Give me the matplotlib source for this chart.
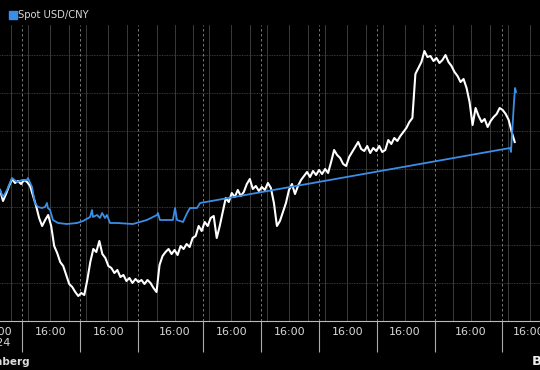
import matplotlib
matplotlib.use("Agg")
import matplotlib.pyplot as plt
import matplotlib.transforms as mtransforms
from matplotlib.lines import Line2D
import numpy as np

# ---- data (x in chart hours, y in CNY per USD) ----
white_step_h = 1.25
white_vals = [
    7.1655, 7.1600, 7.1635, 7.1675, 7.1710, 7.1690, 7.1700, 7.1685, 7.1705, 7.1695,
    7.1675, 7.1625, 7.1575, 7.1515, 7.1475, 7.1505, 7.1530, 7.1475, 7.1375, 7.1340,
    7.1295, 7.1275, 7.1230, 7.1185, 7.1170, 7.1145, 7.1125, 7.1140, 7.1130, 7.1205,
    7.1295, 7.1360, 7.1345, 7.1400, 7.1335, 7.1315, 7.1275, 7.1265, 7.1240, 7.1255,
    7.1220, 7.1230, 7.1200, 7.1215, 7.1190, 7.1210, 7.1195, 7.1205, 7.1185, 7.1205,
    7.1190, 7.1165, 7.1145, 7.1280, 7.1325, 7.1345, 7.1360, 7.1335, 7.1355, 7.1330,
    7.1375, 7.1360, 7.1385, 7.1370, 7.1415, 7.1425, 7.1475, 7.1450, 7.1495, 7.1475,
    7.1515, 7.1525, 7.1415, 7.1475, 7.1545, 7.1615, 7.1595, 7.1640, 7.1620, 7.1655,
    7.1625, 7.1645, 7.1685, 7.1710, 7.1660, 7.1675, 7.1650, 7.1670, 7.1655, 7.1690,
    7.1665, 7.1590, 7.1475, 7.1500, 7.1545, 7.1590, 7.1655, 7.1685, 7.1635, 7.1675,
    7.1705, 7.1725, 7.1745, 7.1720, 7.1750, 7.1730, 7.1755, 7.1735, 7.1760, 7.1740,
    7.1795, 7.1855, 7.1830, 7.1815, 7.1785, 7.1775, 7.1820, 7.1845, 7.1870, 7.1895,
    7.1860, 7.1850, 7.1875, 7.1840, 7.1865, 7.1850, 7.1875, 7.1845, 7.1855, 7.1905,
    7.1885, 7.1915, 7.1900, 7.1925, 7.1945, 7.1965, 7.1995, 7.2015, 7.2235, 7.2265,
    7.2295, 7.2350, 7.2320, 7.2325, 7.2300, 7.2315, 7.2290, 7.2305, 7.2330, 7.2295,
    7.2275, 7.2245, 7.2225, 7.2195, 7.2210, 7.2165, 7.2095, 7.1980, 7.2065, 7.2025,
    7.1995, 7.2010, 7.1970, 7.2000, 7.2020, 7.2035, 7.2065, 7.2055, 7.2035, 7.2005,
    7.1945, 7.1895,
]

blue_x = [0, 1.25, 2.9, 5.0, 7.1, 9.1, 11.2, 11.6, 13.3, 14.5, 15.8, 17.4, 18.7,
          19.5, 19.9, 20.8, 22.0, 24.1, 27.8, 32.0, 34.5, 37.4, 38.2, 38.6, 40.3,
          41.5, 42.4, 43.6, 44.4, 45.7, 48.6, 55.2, 61.0, 65.2, 65.6, 66.4, 71.8,
          72.7, 73.5, 76.0, 77.7, 78.9, 81.8, 83.1, 211.8, 212.2, 212.6, 213.0,
          213.5, 213.9, 214.3]
blue_vals = [7.1655, 7.1620, 7.1655, 7.1715, 7.1695, 7.1705, 7.1705, 7.1715, 7.1670,
             7.1590, 7.1570, 7.1565, 7.1570, 7.1590, 7.1565, 7.1555, 7.1505, 7.1490,
             7.1485, 7.1490, 7.1500, 7.1520, 7.1555, 7.1520, 7.1530, 7.1515, 7.1540,
             7.1515, 7.1530, 7.1490, 7.1490, 7.1485, 7.1505, 7.1530, 7.1540, 7.1505,
             7.1505, 7.1565, 7.1505, 7.1495, 7.1540, 7.1565, 7.1565, 7.1590, 7.1865,
             7.1845, 7.1930, 7.2005, 7.2105, 7.2165, 7.2145]

series_label = "Spot USD/CNY"
day_bounds = [9.3, 33.3, 57.3, 84.5, 108.5, 132.5, 156.5, 180.5, 208.5]
label_pos = [-1.5, 21.0, 45.0, 72.7, 96.2, 120.2, 144.2, 168.2, 195.6, 219.5]
label_txt = ["16:00\n2024"] + ["16:00"] * 9
minor_grid = [4.6, 11.8, 20.8, 28.6, 35.8, 44.8, 52.6, 65.0, 72.7, 80.0, 87.0, 96.0,
              103.8, 111.0, 120.0, 127.8, 135.0, 144.0, 151.8, 159.0, 168.0, 175.8,
              188.0, 195.6, 203.5, 211.0, 220.0]
grid_levels = [7.119, 7.138, 7.157, 7.176, 7.195, 7.214, 7.233]

# ---- drawing ----
BG = "black"
BLUE = "#3a8ee6"
TICKCOL = "#d8d8d8"
fig = plt.figure(figsize=(5.4, 3.7), dpi=100, facecolor=BG)
ax = fig.add_axes([0.0, (370 - 321) / 370, 1.0, (321 - 25) / 370])
ax.set_facecolor(BG)

for g in grid_levels:
    ax.axhline(g, color="#4a4a4a", lw=0.6, ls=(0, (1, 1)), zorder=1)
for m in minor_grid:
    ax.axvline(m, color="#444444", lw=0.6, zorder=1)
for b in day_bounds:
    ax.axvline(b, color="#8a8a8a", lw=0.6, ls=(0, (3, 3)), zorder=1)

wx = np.arange(len(white_vals)) * white_step_h
ax.plot(wx, white_vals, color="white", lw=1.5, zorder=3)
ax.plot(blue_x, blue_vals, color=BLUE, lw=1.3, zorder=4)

for s in ["top", "left", "right"]:
    ax.spines[s].set_visible(False)
ax.spines["bottom"].set_color("#bbbbbb")
ax.spines["bottom"].set_linewidth(0.8)
ax.set_yticks([])

ax.set_xticks(day_bounds)
ax.set_xticklabels([""] * len(day_bounds))
ax.tick_params(axis="x", which="major", length=22, width=0.8, color="#aaaaaa",
               direction="out")
ax.set_xticks(label_pos[1:], minor=True)
ax.set_xticklabels(label_txt[1:], minor=True)
ax.tick_params(axis="x", which="minor", length=0, pad=4, labelsize=8,
               labelcolor=TICKCOL)

# limits set after ticks so that off-chart ticks do not widen the view
ax.set_xlim(0, 224.25)
ax.set_ylim(7.10, 7.248)

# first label sits left of the view (partly cut off), drawn as text
trans = mtransforms.offset_copy(
    mtransforms.blended_transform_factory(ax.transData, ax.transAxes),
    fig=fig, y=-4, units="points")
ax.text(label_pos[0], 0, label_txt[0], transform=trans, ha="center", va="top",
        fontsize=8, color=TICKCOL, clip_on=False)

leg = ax.legend(handles=[Line2D([], [], marker="s", color=BLUE, ls="none",
                                markersize=5.5)],
                labels=[series_label], loc="center left",
                bbox_to_anchor=(9 / 540, 1 - 15 / 370), bbox_transform=fig.transFigure,
                frameon=False, handlelength=0.7, handletextpad=0.25, borderpad=0,
                borderaxespad=0, fontsize=7.2, labelcolor=TICKCOL)

fig.text(30 / 540, 1 - 362 / 370, "Source: Bloomberg", ha="right", va="center",
         color="#dddddd", fontsize=7.5, fontweight="bold")
fig.text(532 / 540, 1 - 361 / 370, "Bloomberg", ha="left", va="center",
         color="#eeeeee", fontsize=9.5, fontweight="bold")

fig.savefig("out.png", dpi=100, facecolor=BG)
